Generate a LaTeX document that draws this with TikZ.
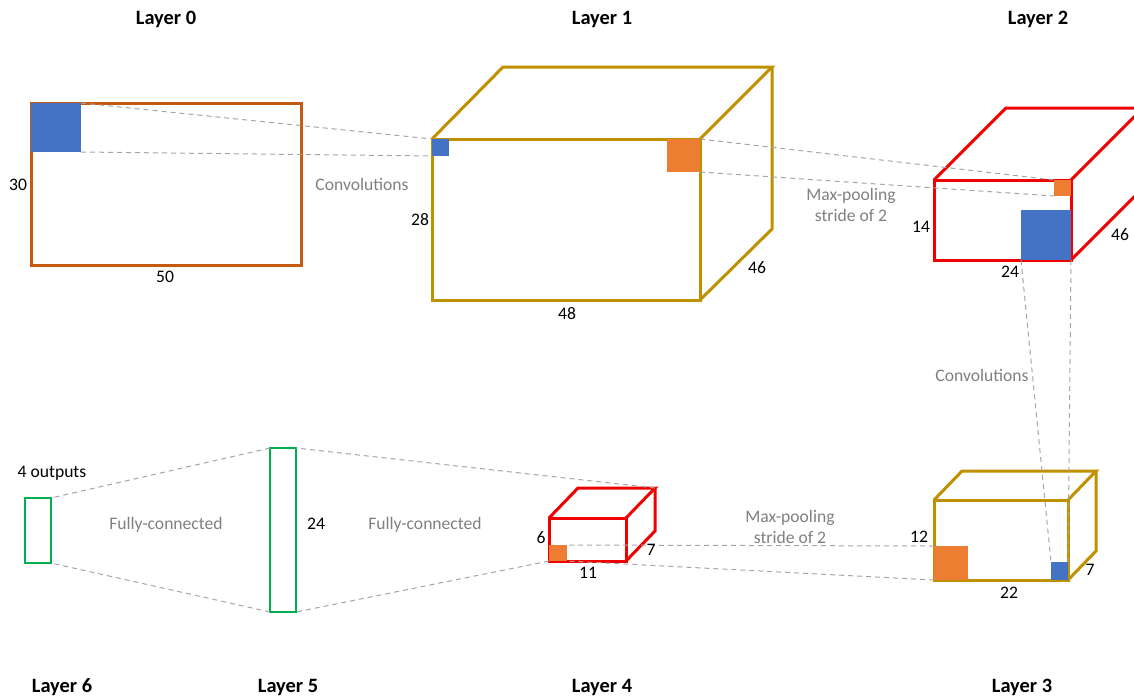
\documentclass[tikz,border=0pt]{standalone}
\usepackage{fontspec}
\setmainfont{Carlito}
\definecolor{brownL}{RGB}{197,90,17}
\definecolor{goldL}{RGB}{191,144,0}
\definecolor{redL}{RGB}{240,0,0}
\definecolor{greenL}{RGB}{0,176,80}
\definecolor{blueP}{RGB}{68,114,196}
\definecolor{orangeP}{RGB}{237,125,49}
\definecolor{linkgray}{RGB}{165,165,165}
\definecolor{notegray}{RGB}{128,128,128}
\begin{document}
\begin{tikzpicture}[x=0.5pt, y=-0.5pt,
  box/.style={draw=#1, line width=1.5pt, line join=miter},
  link/.style={draw=linkgray, line width=0.5pt, dash pattern=on 2.5pt off 2pt},
  dim/.style={font=\fontsize{8.8}{10.5}\selectfont},
  note/.style={font=\fontsize{8.8}{10.5}\selectfont, text=notegray, align=center},
  title/.style={font=\fontsize{10.2}{12}\selectfont\bfseries}]
  \clip (0,0) rectangle (1134,697);

  % layer 0
  \coordinate (L0a) at (31,103);
  \coordinate (L0b) at (301,265);
  \draw[box=brownL] (L0a) rectangle (L0b);
  \fill[blueP] (L0a) rectangle (81,152);
  \coordinate (p0t) at (81,103);
  \coordinate (p0b) at (81,152);

  % layer 1
  \coordinate (L1a) at (432,139);
  \coordinate (L1b) at (700,300);
  \draw[box=goldL] (L1a) rectangle (L1b);
  \draw[box=goldL] (L1a) -- ++(71,-72) -- ++(269,0) -- (700,139);
  \draw[box=goldL] (772,67) -- (772,229) -- (L1b);
  \fill[blueP] (L1a) rectangle (449,156);
  \coordinate (p1t) at (432,139);
  \coordinate (p1b) at (432,156);
  \fill[orangeP] (667,139) rectangle (700,172);
  \coordinate (q1t) at (700,139);
  \coordinate (q1b) at (700,172);

  % layer 2
  \coordinate (L2a) at (934,180);
  \coordinate (L2b) at (1071,260);
  \draw[box=redL] (L2a) rectangle (L2b);
  \draw[box=redL] (L2a) -- ++(72,-72) -- ++(137,0) -- (1071,180);
  \draw[box=redL] (1143,108) -- (1143,188) -- (L2b);
  \fill[orangeP] (1054,180) rectangle (1071,196);
  \coordinate (q2t) at (1054,180);
  \coordinate (q2b) at (1054,196);
  \fill[blueP] (1021,210) rectangle (L2b);
  \coordinate (p2l) at (1021,260);
  \coordinate (p2r) at (1071,260);

  % layer 3
  \coordinate (L3a) at (934,500);
  \coordinate (L3b) at (1068,580);
  \draw[box=goldL] (L3a) rectangle (L3b);
  \draw[box=goldL] (L3a) -- ++(28,-29) -- ++(134,0) -- (1068,500);
  \draw[box=goldL] (1096,471) -- (1096,551) -- (L3b);
  \fill[orangeP] (934,546) rectangle (968,580);
  \coordinate (q3t) at (934,546);
  \coordinate (q3b) at (934,580);
  \fill[blueP] (1051,562) rectangle (L3b);
  \coordinate (p3l) at (1051,562);
  \coordinate (p3r) at (1068,562);

  % layer 4
  \coordinate (L4a) at (549,518);
  \coordinate (L4b) at (626,561);
  \draw[box=redL] (L4a) rectangle (L4b);
  \draw[box=redL] (L4a) -- ++(29,-30) -- ++(77,0) -- (626,518);
  \draw[box=redL] (655,488) -- (655,531) -- (L4b);
  \fill[orangeP] (549,545) rectangle (567,561);
  \coordinate (q4t) at (567,545);
  \coordinate (q4b) at (567,561);
  \coordinate (L4c) at (655,488);
  \coordinate (L4d) at (549,561);

  % layers 5 and 6
  \draw[box=greenL, line width=1.2pt] (270,448) rectangle (296,612);
  \draw[box=greenL, line width=1.2pt] (25,498) rectangle (51,563);
  \coordinate (L5a) at (270,448);
  \coordinate (L5b) at (270,612);
  \coordinate (L5c) at (296,448);
  \coordinate (L5d) at (296,612);
  \coordinate (L6a) at (51,498);
  \coordinate (L6b) at (51,563);

  % dashed links
  \draw[link] (p0t) -- (p1t);
  \draw[link] (p0b) -- (p1b);
  \draw[link] (q1t) -- (q2t);
  \draw[link] (q1b) -- (q2b);
  \draw[link] (p2l) -- (p3l);
  \draw[link] (p2r) -- (p3r);
  \draw[link] (q3t) -- (q4t);
  \draw[link] (q3b) -- (q4b);
  \draw[link] (L4c) -- (L5c);
  \draw[link] (L4d) -- (L5d);
  \draw[link] (L5a) -- (L6a);
  \draw[link] (L5b) -- (L6b);

  % sizes
  \node[dim] (d30) at (18,185) {30};
  \node[dim] (d50) at (165,277) {50};
  \node[dim] (d28) at (420,220) {28};
  \node[dim] (d48) at (567,314) {48};
  \node[dim] (d46a) at (757,268) {46};
  \node[dim] (d14) at (921,227) {14};
  \node[dim] (d24a) at (1010,272) {24};
  \node[dim] (d46b) at (1120,235) {46};
  \node[dim] (d12) at (919,537) {12};
  \node[dim] (d22) at (1009,593) {22};
  \node[dim] (d7a) at (1090,570) {7};
  \node[dim] (d6) at (541,538) {6};
  \node[dim] (d11) at (588,573) {11};
  \node[dim] (d7b) at (651,550) {7};
  \node[dim] (d24b) at (316,524) {24};
  \node[dim] (out) at (52,473) {4 outputs};

  % operations
  \node[note] (conv1) at (362,184) {Convolutions};
  \node[note] (pool1) at (851,205) {Max-pooling\\stride of 2};
  \node[note] (conv2) at (982,375) {Convolutions};
  \node[note] (pool2) at (790,527) {Max-pooling\\stride of 2};
  \node[note] (fc1) at (425,525) {Fully-connected};
  \node[note] (fc2) at (166,525) {Fully-connected};

  % titles
  \node[title] (t0) at (166,19) {Layer 0};
  \node[title] (t1) at (602,19) {Layer 1};
  \node[title] (t2) at (1038,19) {Layer 2};
  \node[title] (t6) at (62,687) {Layer 6};
  \node[title] (t5) at (288,687) {Layer 5};
  \node[title] (t4) at (602,687) {Layer 4};
  \node[title] (t3) at (1022,687) {Layer 3};
\end{tikzpicture}
\end{document}
